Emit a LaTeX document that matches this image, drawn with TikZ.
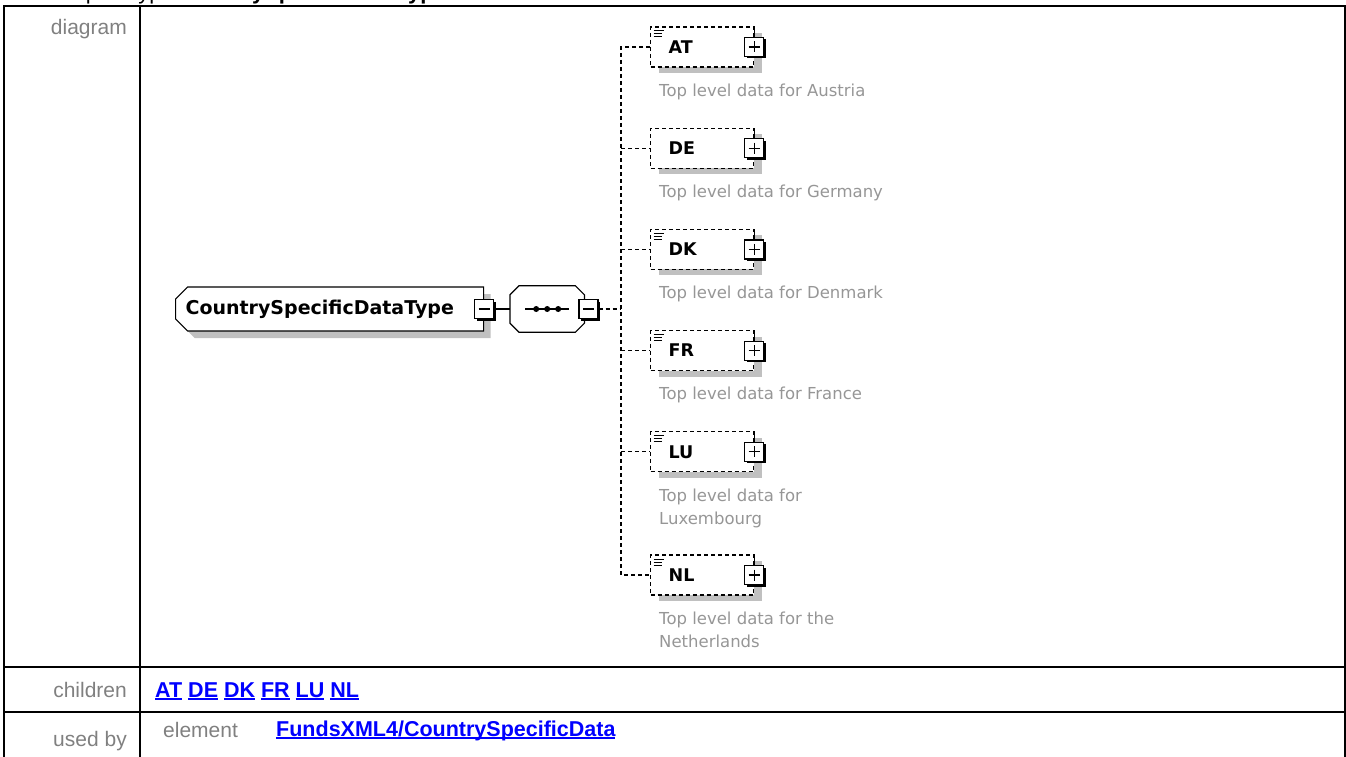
\documentclass[tikz,border=0pt]{standalone}
\usepackage{fontspec}
\setmainfont{Liberation Sans}
\newfontfamily\diagfont{DejaVu Sans}
\newsavebox{\ulinkbox}
\newcommand{\ulink}[1]{\sbox{\ulinkbox}{#1}\rlap{\rule[-3pt]{\wd\ulinkbox}{1.6pt}}\usebox{\ulinkbox}}
% octagon round a node, chamfer 9pt
\newcommand{\octpath}[1]{([xshift=9pt]#1.north west) -- ([xshift=-9pt]#1.north east) -- ([yshift=-9pt]#1.north east) -- ([yshift=9pt]#1.south east) -- ([xshift=-9pt]#1.south east) -- ([xshift=9pt]#1.south west) -- ([yshift=9pt]#1.south west) -- ([yshift=-9pt]#1.north west) -- cycle}
\usetikzlibrary{positioning,shapes.misc,shadows,backgrounds}
\definecolor{shadegray}{RGB}{192,192,192}
\definecolor{descgray}{RGB}{150,150,150}
\definecolor{lblgray}{RGB}{128,128,128}
\definecolor{linkblue}{RGB}{0,0,255}
\tikzset{
  grid/.style={line width=2pt},
  ctype/.style={chamfered rectangle, chamfered rectangle corners={north west,south west},
    chamfered rectangle xsep=6pt, chamfered rectangle ysep=6pt, draw, fill=white, line width=1.2pt,
    text width=288pt, inner xsep=4pt, inner ysep=0pt, minimum height=44pt, align=left,
    font=\diagfont\bfseries\fontsize{19}{22}\selectfont,
    drop shadow={shadow xshift=7pt, shadow yshift=-7pt, fill=shadegray, opacity=1}},
  seqbox/.style={rectangle, minimum width=74pt, minimum height=46pt, inner sep=0pt,
    path picture={
      \draw[line width=1.3pt] ([xshift=-22pt]path picture bounding box.center) -- ++(44pt,0);
      \foreach \dx in {-11,0,11} \fill[black] ([xshift=\dx pt]path picture bounding box.center) circle (3pt);}},
  seqline/.style={fill=white, draw, line width=1.2pt},
  elem/.style={draw, dashed, dash pattern=on 4pt off 3pt, line width=1.2pt, fill=white,
    minimum height=40pt, text width=67pt, inner xsep=18pt, inner ysep=0pt, align=left,
    font=\diagfont\bfseries\fontsize{17.5}{20}\selectfont,
    drop shadow={shadow xshift=8pt, shadow yshift=-6pt, fill=shadegray, opacity=1}},
  docmark/.style={path picture={
      \foreach \d/\w in {4/10,7/8,10/8} \draw[solid, line width=1pt]
        ([xshift=3pt,yshift=-\d pt]path picture bounding box.north west) -- ++(\w pt,0);}},
  expander/.style={draw, solid, fill=white, line width=1.2pt, minimum size=19pt, inner sep=0pt,
    drop shadow={shadow xshift=2pt, shadow yshift=-2pt, fill=black, opacity=1}},
  minus/.style={expander, path picture={
      \draw[line width=1.2pt] ([xshift=4pt]path picture bounding box.west) -- ([xshift=-4pt]path picture bounding box.east);}},
  plus/.style={expander, path picture={
      \draw[line width=1.2pt] ([xshift=4pt]path picture bounding box.west) -- ([xshift=-4pt]path picture bounding box.east);
      \draw[line width=1.2pt] ([yshift=-4pt]path picture bounding box.north) -- ([yshift=4pt]path picture bounding box.south);}},
  desc/.style={inner sep=0pt, align=left, text=descgray, font=\diagfont\fontsize{16.5}{23.5}\selectfont},
  link/.style={line width=1.2pt},
  conn/.style={line width=1.2pt, dash pattern=on 4pt off 3pt},
  tlabel/.style={inner sep=0pt, text=lblgray, font=\fontsize{21}{24}\selectfont},
  tlink/.style={inner sep=0pt, text=linkblue, font=\bfseries\fontsize{21.5}{24}\selectfont}}

\begin{document}
\begin{tikzpicture}[x=1pt, y=-1pt]
  \useasboundingbox (0,0) rectangle (1346,757);
  % cut-off heading
  \begin{scope}
    \clip (0,0) rectangle (1346,5.5);
    \node[anchor=base west, inner sep=0pt, font=\fontsize{22}{26}\selectfont] (title) at (44,0) {complexType \textbf{CountrySpecificDataType}};
  \end{scope}
  % table
  \draw[grid] (4,757) -- (4,6) -- (1345,6) -- (1345,757);
  \draw[grid] (140,6) -- (140,757);
  \draw[grid] (4,667) -- (1345,667);
  \draw[grid] (4,712) -- (1345,712);
  \node[tlabel, anchor=base east] (rowdiag) at (127,35) {diagram};
  \node[tlabel, anchor=base east] (rowchild) at (127,697) {children};
  \node[tlabel, anchor=base east] (rowused) at (127,746) {used by};
  \node[tlink, anchor=base west] (childlinks) at (155,697) {\ulink{AT} \ulink{DE} \ulink{DK} \ulink{FR} \ulink{LU} \ulink{NL}};
  \node[tlabel, anchor=base west] (usedkind) at (163,737) {element};
  \node[tlink, anchor=base west] (usedlink) at (276,736) {\ulink{FundsXML4/CountrySpecificData}};
  % type and sequence
  \node[ctype, anchor=west] (cstype) at (175,309) {CountrySpecificDataType};
  \node[minus] (cstypex) at (cstype.east) {};
  \node[seqbox, anchor=west] (seq) at (510,309) {};
  \begin{scope}[on background layer]
    \fill[shadegray, shift={(6,6)}] \octpath{seq};
    \path[seqline] \octpath{seq};
  \end{scope}
  \node[minus] (seqx) at ([xshift=4pt]seq.east) {};
  \draw[link] (cstypex.east) -- (seq.west);
  \coordinate (trunk) at (621,309);
  % children
  \node[elem, docmark, anchor=west] (at) at (650,47) {AT};
  \node[elem, below=60pt of at] (de) {DE};
  \node[elem, docmark, below=60pt of de] (dk) {DK};
  \node[elem, docmark, below=60pt of dk] (fr) {FR};
  \node[elem, docmark, below=60pt of fr] (lu) {LU};
  \node[elem, docmark, below=82pt of lu] (nl) {NL};
  \node[plus] (atx) at (at.east) {};
  \node[plus] (dex) at (de.east) {};
  \node[plus] (dkx) at (dk.east) {};
  \node[plus] (frx) at (fr.east) {};
  \node[plus] (lux) at (lu.east) {};
  \node[plus] (nlx) at (nl.east) {};
  \draw[link] (atx.north) -- (atx.north |- at.north);
  \draw[link] (dex.north) -- (dex.north |- de.north);
  \draw[link] (dkx.north) -- (dkx.north |- dk.north);
  \draw[link] (frx.north) -- (frx.north |- fr.north);
  \draw[link] (lux.north) -- (lux.north |- lu.north);
  \draw[link] (nlx.north) -- (nlx.north |- nl.north);
  \node[desc, below right=16pt and 9pt of at.south west] (atdesc) {Top level data for Austria};
  \node[desc, below right=16pt and 9pt of de.south west] (dedesc) {Top level data for Germany};
  \node[desc, below right=16pt and 9pt of dk.south west] (dkdesc) {Top level data for Denmark};
  \node[desc, below right=16pt and 9pt of fr.south west] (frdesc) {Top level data for France};
  \node[desc, below right=16pt and 9pt of lu.south west] (ludesc) {Top level data for\\Luxembourg};
  \node[desc, below right=16pt and 9pt of nl.south west] (nldesc) {Top level data for the\\Netherlands};
  % connectors
  \draw[conn] (seqx.east) -- (trunk);
  \draw[conn] (at.west) -| (trunk) |- (nl.west);
  \draw[conn] (de.west -| trunk) -- (de.west);
  \draw[conn] (dk.west -| trunk) -- (dk.west);
  \draw[conn] (fr.west -| trunk) -- (fr.west);
  \draw[conn] (lu.west -| trunk) -- (lu.west);
\end{tikzpicture}
\end{document}
